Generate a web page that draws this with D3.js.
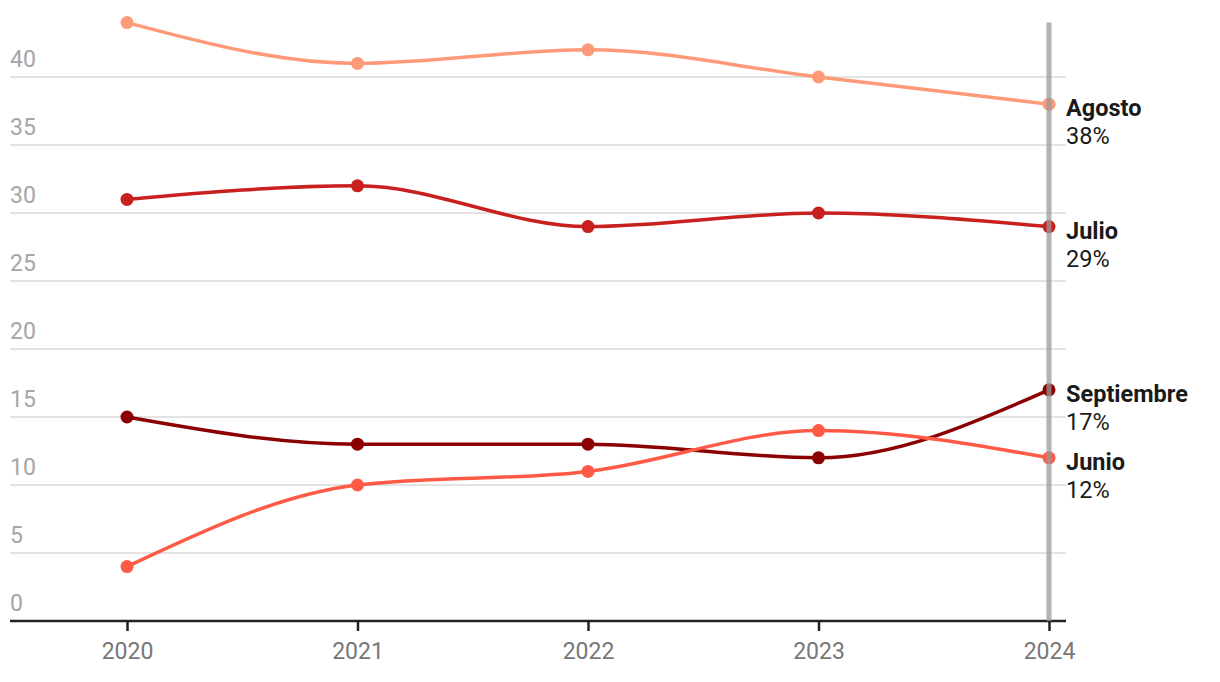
<!DOCTYPE html>
<html>
<head>
<meta charset="utf-8">
<script src="https://cdn.jsdelivr.net/npm/d3@7"></script>
<style>
  body { margin: 0; background: #fff; }
  svg { font-family: Roboto, "Noto Sans", sans-serif; }
</style>
</head>
<body>
<svg width="1220" height="682"></svg>
<script>
// data
var years = [2020, 2021, 2022, 2023, 2024];
var agosto = [44, 41, 42, 40, 38];
var julio = [31, 32, 29, 30, 29];
var septiembre = [15, 13, 13, 12, 17];
var junio = [4, 10, 11, 14, 12];
var yTicks = [0, 5, 10, 15, 20, 25, 30, 35, 40];

var series = [
    {name: 'Agosto', values: agosto, color: '#ff9a78'},
    {name: 'Julio', values: julio, color: '#c8201f'},
    {name: 'Septiembre', values: septiembre, color: '#8b0000'},
    {name: 'Junio', values: junio, color: '#ff5a45'}
];

let svg = d3.select('svg');
let margin = {top: 0, left: 10, right: 154, bottom: 61};
let width = 1220, height = 682;

let x = d3.scalePoint()
    .domain(years)
    .range([127, 1049]);

let y = d3.scaleLinear()
    .domain([0, 40])
    .range([621, 77]);

// gridlines + y labels
let grid = svg.append('g').attr('id', 'grid');
grid.selectAll('line')
    .data(yTicks.filter(function (d) { return d > 0; }))
    .enter()
    .append('line')
    .attr('x1', margin.left)
    .attr('x2', width - margin.right)
    .attr('y1', function (d) { return y(d); })
    .attr('y2', function (d) { return y(d); })
    .attr('stroke', '#e3e3e3')
    .attr('stroke-width', 2);

grid.selectAll('text')
    .data(yTicks)
    .enter()
    .append('text')
    .attr('x', margin.left)
    .attr('y', function (d) { return y(d) - 10; })
    .attr('fill', '#a6a6a6')
    .attr('font-size', 23)
    .text(function (d) { return d; });

// x axis
let xAxis = d3.axisBottom(x).tickSize(10).tickPadding(12);
let xGroup = svg.append('g')
    .attr('id', 'x-axis')
    .attr('transform', 'translate(0,' + y(0) + ')')
    .call(xAxis);
xGroup.select('.domain')
    .attr('d', 'M' + margin.left + ',0H' + (width - margin.right))
    .attr('stroke', '#222')
    .attr('stroke-width', 2.5);
xGroup.selectAll('.tick line').attr('stroke', '#222').attr('stroke-width', 2.5);
xGroup.selectAll('.tick text')
    .attr('fill', '#777')
    .attr('font-size', 23)
    .attr('font-family', 'Roboto, sans-serif');

// lines
let line = d3.line()
    .x(function (d, i) { return x(years[i]); })
    .y(function (d) { return y(d); })
    .curve(d3.curveMonotoneX);

let plot = svg.append('g').attr('id', 'plot');
plot.selectAll('path.series')
    .data(series)
    .enter()
    .append('path')
    .attr('class', 'series')
    .attr('fill', 'none')
    .attr('stroke', function (d) { return d.color; })
    .attr('stroke-width', 3.5)
    .attr('stroke-linejoin', 'round')
    .attr('stroke-linecap', 'round')
    .attr('d', function (d) { return line(d.values); });

series.forEach(function (s) {
    plot.append('g').selectAll('circle')
        .data(s.values)
        .enter()
        .append('circle')
        .attr('cx', function (d, i) { return x(years[i]); })
        .attr('cy', function (d) { return y(d); })
        .attr('r', 6.5)
        .attr('fill', s.color);
});

// highlight line at the last year
let last = years[years.length - 1];
svg.append('line')
    .attr('x1', x(last))
    .attr('x2', x(last))
    .attr('y1', y(44))
    .attr('y2', y(0))
    .attr('stroke', '#9a9a9a')
    .attr('stroke-opacity', 0.75)
    .attr('stroke-width', 5);

// end labels
let labels = svg.append('g').attr('id', 'labels');
series.forEach(function (s) {
    let v = s.values[s.values.length - 1];
    let t = labels.append('text')
        .attr('x', x(last) + 17)
        .attr('y', y(v) + 12)
        .attr('fill', '#1a1a1a')
        .attr('font-size', 23.5);
    t.append('tspan')
        .attr('font-weight', 'bold')
        .text(s.name);
    t.append('tspan')
        .attr('x', x(last) + 17)
        .attr('dy', 28)
        .text(v + '%');
});
</script>
</body>
</html>
